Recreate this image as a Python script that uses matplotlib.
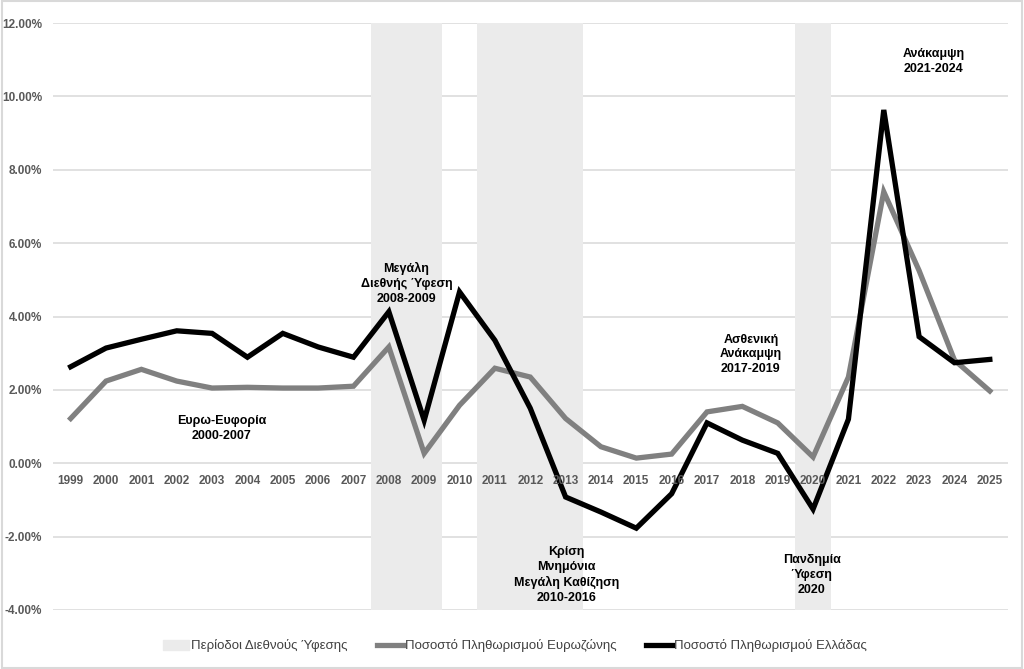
import matplotlib.pyplot as plt
import matplotlib.patches as mpatches
from matplotlib.lines import Line2D

plt.rcParams['font.family'] = ['Liberation Sans', 'DejaVu Sans']

years = [str(y) for y in range(1999, 2026)]
greece = [2.63, 3.14, 3.38, 3.61, 3.54, 2.89, 3.54, 3.17, 2.89, 4.13,
          1.17, 4.67, 3.35, 1.50, -0.92, -1.33, -1.77, -0.83, 1.10, 0.63,
          0.27, -1.25, 1.20, 9.63, 3.45, 2.74, 2.83]
eurozone = [1.22, 2.24, 2.56, 2.24, 2.05, 2.07, 2.05, 2.05, 2.10, 3.17,
            0.27, 1.58, 2.59, 2.35, 1.22, 0.45, 0.14, 0.25, 1.40, 1.55,
            1.10, 0.17, 2.35, 7.40, 5.25, 2.81, 1.97]
recession = [0, 0, 0, 0, 0, 0, 0, 0, 0, 1, 1, 0, 1, 1, 1, 0, 0, 0, 0, 0,
             0, 1, 0, 0, 0, 0, 0]

notes = [
    ("Ευρω-Ευφορία\n2000-2007", 4.27, 0.95),
    ("Μεγάλη\nΔιεθνής Ύφεση\n2008-2009", 9.5, 4.9),
    ("Κρίση\nΜνημόνια\nΜεγάλη Καθίζηση\n2010-2016", 14.03, -3.05),
    ("Ασθενική\nΑνάκαμψη\n2017-2019", 19.24, 2.97),
    ("Πανδημία\nΎφεση\n2020", 20.96, -3.05),
    ("Ανάκαμψη\n2021-2024", 24.4, 10.96),
]

fig = plt.figure(figsize=(10.24, 6.69), dpi=100)
ax = fig.add_axes([53 / 1024, 1 - 610 / 669, 954.5 / 1024, 587 / 669])

x = list(range(len(years)))
ymin, ymax = -4, 12
heights = [(ymax - ymin) * r for r in recession]
ax.bar(x, heights, width=1.0, bottom=ymin, color='#EBEBEB', zorder=1)
ax.plot(x, eurozone, color='#808080', lw=3.8, zorder=3, solid_joinstyle='miter')
ax.plot(x, greece, color='black', lw=3.8, zorder=4, solid_joinstyle='miter')

ax.set_xlim(-0.5, len(years) - 0.5)
ax.set_ylim(ymin, ymax)
yt = list(range(-4, 13, 2))
ax.set_yticks(yt)
ax.set_yticklabels(['%.2f%%' % v for v in yt], fontsize=8.5, fontweight='bold', color='#595959')
ax.yaxis.grid(True, color='#D9D9D9', lw=1.1, zorder=0)
ax.set_axisbelow(True)
ax.tick_params(axis='y', length=0, pad=8)

ax.set_xticks([])
for i, yr in enumerate(years):
    ax.annotate(yr, (i, 0), xytext=(0, -13), textcoords='offset points',
                ha='center', va='center', fontsize=8.5, fontweight='bold',
                color='#595959', zorder=6)
for s in ax.spines.values():
    s.set_visible(False)

for txt, xx, yy in notes:
    ax.text(xx, yy, txt, ha='center', va='center', fontsize=9,
            fontweight='bold', color='black', linespacing=1.3, zorder=5)

handles = [mpatches.Patch(color='#EBEBEB'),
           Line2D([], [], color='#808080', lw=3.8),
           Line2D([], [], color='black', lw=3.8)]
labels = ['Περίοδοι Διεθνούς Ύφεσης', 'Ποσοστό Πληθωρισμού Ευρωζώνης',
          'Ποσοστό Πληθωρισμού Ελλάδας']
fig.legend(handles, labels, loc='center', bbox_to_anchor=(515 / 1024, 1 - 646 / 669),
           ncol=3, frameon=False, handlelength=2.0, handletextpad=0.15,
           columnspacing=2.2, labelcolor='#404040',
           prop={'family': ['Liberation Sans Narrow', 'Liberation Sans'], 'size': 9.5})

fig.patches.append(mpatches.Rectangle((0.002, 0.002), 0.996, 0.996, transform=fig.transFigure,
                                      fill=False, edgecolor='#D9D9D9', lw=1.5))

fig.savefig('out.png', dpi=100)
